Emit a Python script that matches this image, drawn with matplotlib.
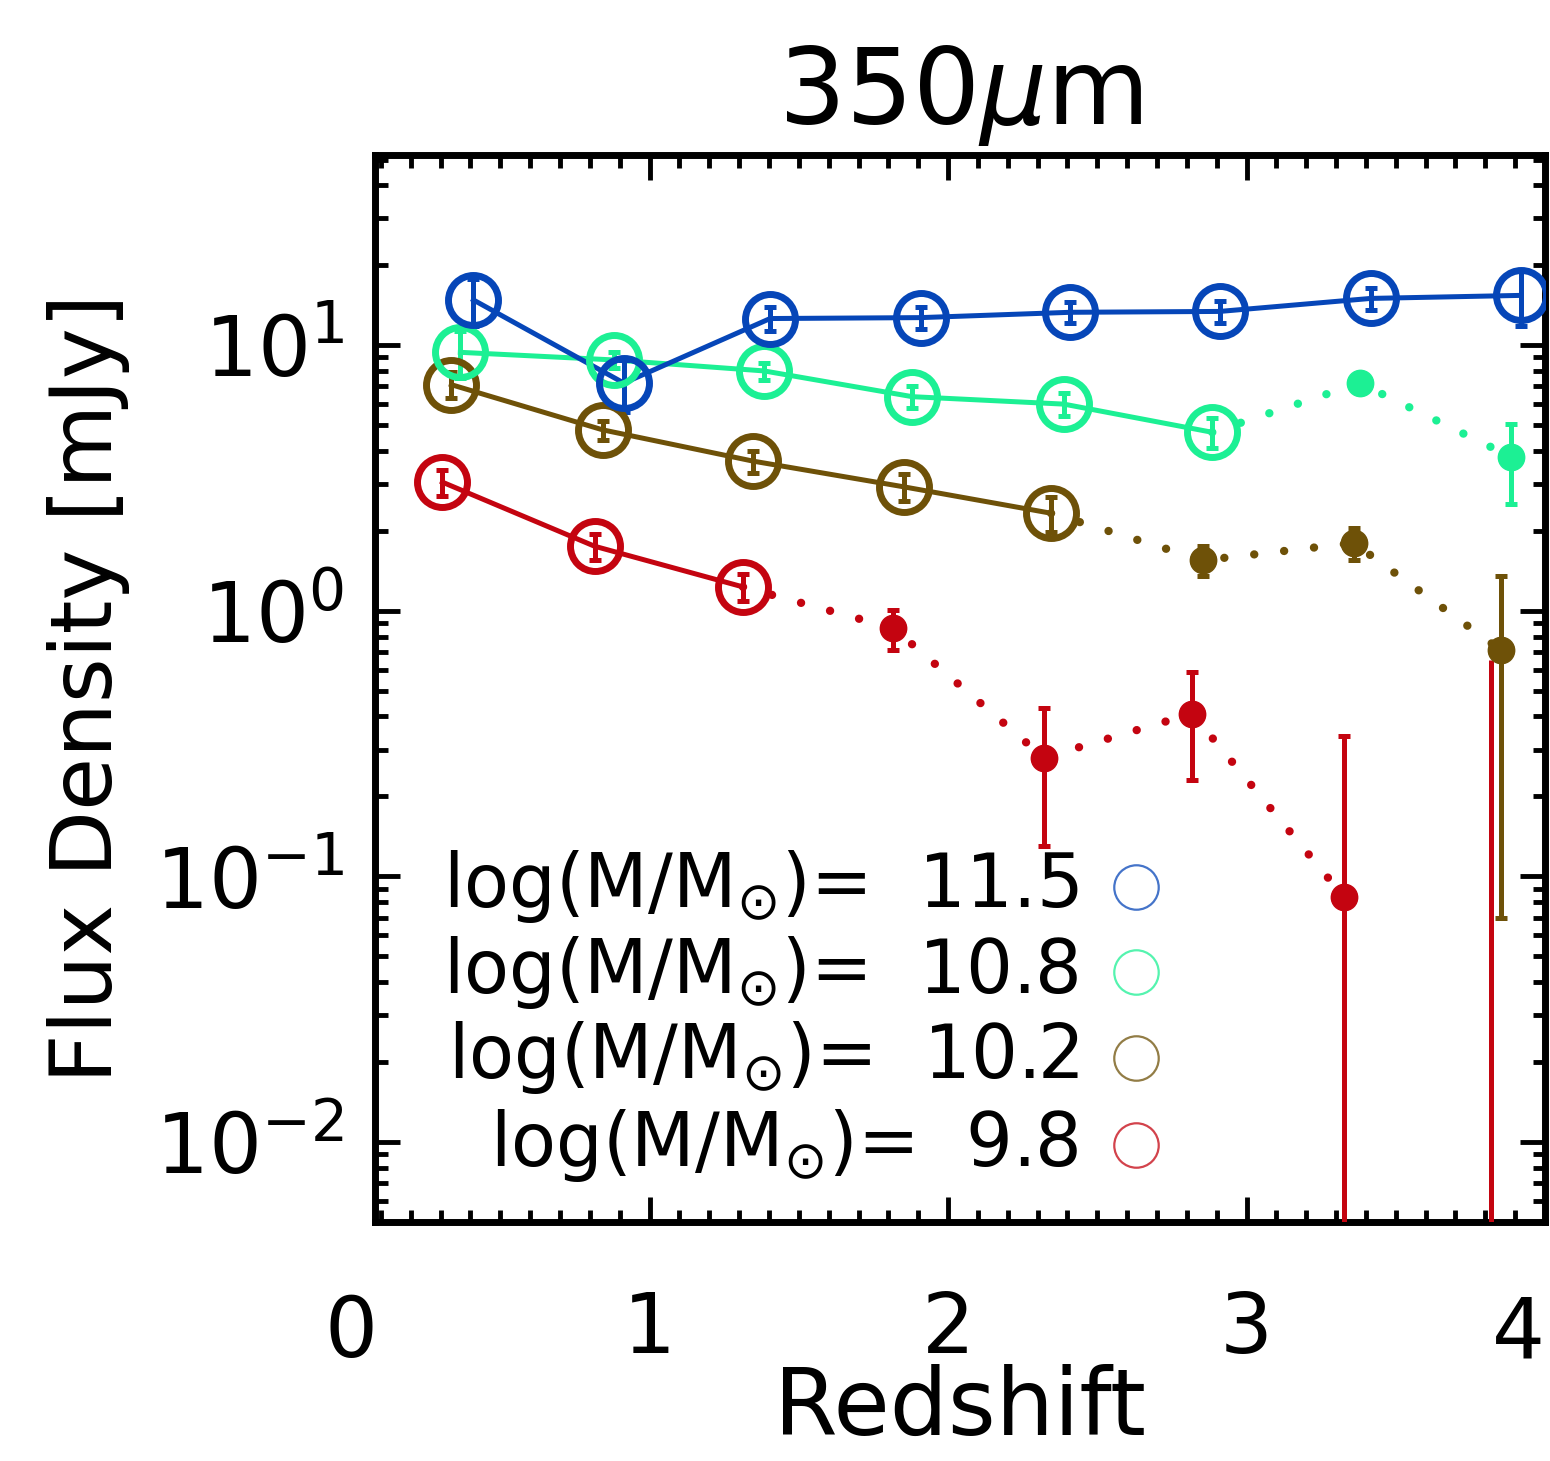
import matplotlib
matplotlib.use("Agg")
import matplotlib.pyplot as plt
import matplotlib.transforms as mtransforms
from matplotlib.ticker import LogLocator, MultipleLocator, NullFormatter, FuncFormatter
import numpy as np

# stellar-mass bins, 350 micron stacked flux densities vs redshift
MASS_LABELS = ["11.5", "10.8", "10.2", "9.8"]
COLORS = ["#0646b8", "#1cf094", "#6e5108", "#c40410"]

Z_115 = [0.41, 0.914, 1.404, 1.908, 2.41, 2.91, 3.416, 3.92]
F_115 = [14.8, 7.2, 12.6, 12.7, 13.3, 13.4, 15.0, 15.4]
E_115 = [3.0, 1.6, 1.3, 1.2, 1.2, 1.3, 1.4, 3.6]
D_115 = [1, 1, 1, 1, 1, 1, 1, 1]          # 1 = open circle (solid), 0 = filled (dotted)

Z_108 = [0.366, 0.88, 1.384, 1.88, 2.388, 2.885, 3.379, 3.886]
F_108 = [9.4, 8.8, 8.0, 6.4, 6.0, 4.7, 7.2, 3.8]
E_108 = [1.9, 0.6, 0.6, 0.6, 0.6, 0.6, 0.4, 1.27]
D_108 = [1, 1, 1, 1, 1, 1, 0, 0]

Z_102 = [0.336, 0.843, 1.347, 1.851, 2.345, 2.855, 3.359, 3.853]
F_102 = [7.1, 4.8, 3.66, 2.93, 2.33, 1.55, 1.80, 0.71]
E_102 = [0.8, 0.4, 0.35, 0.35, 0.35, 0.2, 0.25, 0.64]
D_102 = [1, 1, 1, 1, 1, 0, 0, 0]

Z_98 = [0.306, 0.816, 1.313, 1.817, 2.321, 2.818, 3.325, 3.82]
F_98 = [3.05, 1.75, 1.23, 0.86, 0.28, 0.41, 0.084, -0.10]
E_98 = [0.35, 0.2, 0.14, 0.15, 0.15, 0.18, 0.255, 0.75]
D_98 = [1, 1, 1, 0, 0, 0, 0, 0]

SERIES = [
    (Z_98, F_98, E_98, D_98, COLORS[3]),
    (Z_102, F_102, E_102, D_102, COLORS[2]),
    (Z_108, F_108, E_108, D_108, COLORS[1]),
    (Z_115, F_115, E_115, D_115, COLORS[0]),
]

plt.rcParams["font.family"] = ["DejaVu Sans"]
plt.rcParams["mathtext.fontset"] = "dejavusans"

fig = plt.figure(figsize=(15.5, 14.61), dpi=100)
ax = fig.add_axes([0.2419, 0.1636, 0.7549, 0.7303])
ax.set_yscale("log")
ax.set_xlim(0.08, 4.0)
ax.set_ylim(5.0e-3, 52)

for z, f, e, d, col in SERIES:
    z = np.array(z); f = np.array(f); e = np.array(e); d = np.array(d, bool)
    pos = f > 0
    det = np.where(d)[0]
    # solid line through the open circles, dotted beyond
    ax.plot(z[d], f[d], "-", color=col, lw=3.6, zorder=2)
    tail = np.arange(det[-1], len(z))
    tail = tail[pos[tail]]
    if len(tail) > 1:
        ax.plot(z[tail], f[tail], color=col, lw=6, zorder=2,
                dashes=(0.01, 3.6), dash_capstyle="round")
    lo = np.where(f - e > 0, e, f - 1e-6)
    ok = pos
    ax.errorbar(z[ok], f[ok], yerr=[lo[ok], e[ok]], fmt="none", ecolor=col,
                elinewidth=3.6, capsize=4, capthick=3.6, zorder=3)
    ax.vlines(z[~ok], 1e-6, f[~ok] + e[~ok], color=col, lw=3.6, zorder=3)
    ax.plot(z[d], f[d], "o", ms=36, mfc="none", mec=col, mew=5, zorder=4)
    nd = (~d) & pos
    ax.plot(z[nd], f[nd], "o", ms=19, mfc=col, mec=col, zorder=4)

# legend as text rows with thin rings
rows = [0.314, 0.234, 0.154, 0.072]
for lab, col, yy in zip(MASS_LABELS, COLORS, rows):
    ax.text(0.601, yy, r"log(M/M$_{\odot}$)=  " + lab, transform=ax.transAxes,
            ha="right", va="center", fontsize=53)
    ax.plot([0.650], [yy], "o", ms=32, mfc="none", mec=col, mew=1.6, alpha=0.75,
            transform=ax.transAxes, clip_on=False)

# axes styling
for sp in ax.spines.values():
    sp.set_linewidth(5)
ax.tick_params(which="both", direction="in", top=True, right=True, width=3.5)
ax.tick_params(which="major", length=18, labelsize=60)
ax.tick_params(axis="x", which="major", pad=48)
ax.tick_params(which="minor", length=9)
ax.tick_params(axis="y", which="major", pad=22)
ax.xaxis.set_major_locator(MultipleLocator(1))
ax.xaxis.set_minor_locator(MultipleLocator(0.1))
ax.xaxis.set_major_formatter(FuncFormatter(lambda v, p: "" if v > 3.5 else f"{v:.0f}"))
ax.yaxis.set_major_locator(LogLocator(base=10, numticks=20))
ax.yaxis.set_minor_locator(LogLocator(base=10, subs=np.arange(2, 10), numticks=20))
ax.yaxis.set_minor_formatter(NullFormatter())

# "0" sits at x=0 just left of the frame; "4" is pulled in at the right edge
trans = mtransforms.blended_transform_factory(ax.transData, ax.transAxes)
ax.text(0.0, -0.067, "0", transform=trans, fontsize=60, ha="center", va="top",
        clip_on=False)
ax.text(4.0, -0.067, "4", transform=trans, fontsize=60, ha="right", va="top",
        clip_on=False)

ax.set_xlabel("Redshift", fontsize=66, labelpad=-4)
ax.set_ylabel("Flux Density [mJy]", fontsize=62, labelpad=18)
ax.set_title(r"350$\mu$m", fontsize=76, pad=22)

fig.savefig("out.png", dpi=100)
